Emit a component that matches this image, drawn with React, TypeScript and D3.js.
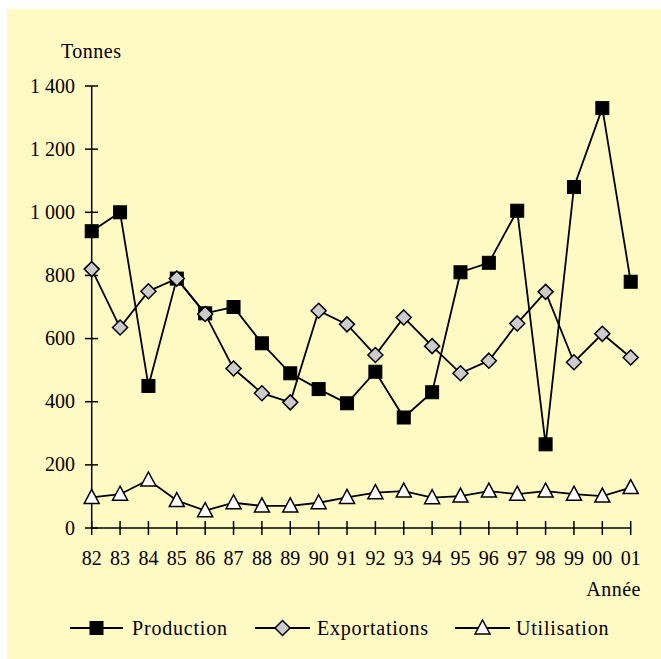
import React from "react";
import * as d3 from "d3";

const years = ["82","83","84","85","86","87","88","89","90","91","92","93","94","95","96","97","98","99","00","01"];
const production = [940,1000,450,790,680,700,585,490,440,395,495,350,430,810,840,1005,265,1080,1330,780];
const exportations = [820,635,750,790,678,505,427,398,688,645,548,667,576,490,530,648,748,525,615,540];
const utilisation = [97,107,152,87,55,80,70,70,80,97,112,117,96,101,117,107,117,107,101,128];
const yTicks = [0,200,400,600,800,1000,1200,1400];
const seriesNames = ["Production","Exportations","Utilisation"];

const W = 661, H = 659;
const FONT = "Liberation Serif, Times New Roman, serif";

function fmt(v: number) {
  return v >= 1000 ? `${Math.floor(v / 1000)} ${String(v % 1000).padStart(3, "0")}` : String(v);
}

function Marker({ type, x, y }: { type: number; x: number; y: number }) {
  if (type === 0) return <rect x={x - 6.5} y={y - 6.5} width={13} height={13} fill="#000" stroke="#000" strokeWidth={1} />;
  if (type === 1) return <path d={`M${x},${y - 7.5}L${x + 7.5},${y}L${x},${y + 7.5}L${x - 7.5},${y}Z`} fill="#CCCCCC" stroke="#000" strokeWidth={1.5} />;
  return <path d={`M${x},${y - 8}L${x + 7.5},${y + 6}L${x - 7.5},${y + 6}Z`} fill="#FFFFFF" stroke="#000" strokeWidth={1.5} />;
}

export default function App() {
  const x = d3.scalePoint<string>().domain(years).range([91.7, 630.7]);
  const y = d3.scaleLinear().domain([0, 1400]).range([528, 86]);
  const line = d3.line<number>().x((_, i) => x(years[i])!).y(d => y(d));
  const data = [production, exportations, utilisation];
  const legendX = [[70, 123, 132], [255, 310, 317], [455, 510, 516]];
  return (
    <svg width={W} height={H} style={{ position: "absolute", left: 0, top: 0 }}>
      <rect x={7} y={9} width={W - 7} height={H - 9} fill="#FFF9C4" />
      <g fontFamily={FONT} fontSize={20} fill="#000">
        <text x={61} y={57.5} letterSpacing={0.5}>Tonnes</text>
        <line x1={91.7} x2={91.7} y1={86} y2={528} stroke="#000" strokeWidth={1.5} />
        <line x1={91.7} x2={630.7} y1={528} y2={528} stroke="#000" strokeWidth={1.5} />
        {yTicks.map(t => (
          <g key={t}>
            <line x1={85} x2={98} y1={y(t)} y2={y(t)} stroke="#000" strokeWidth={1.5} />
            <text x={75} y={y(t) + 6.5} textAnchor="end">{fmt(t)}</text>
          </g>
        ))}
        {years.map(yr => (
          <g key={yr}>
            <line x1={x(yr)} x2={x(yr)} y1={521} y2={535} stroke="#000" strokeWidth={1.5} />
            <text x={x(yr)} y={565} textAnchor="middle">{yr}</text>
          </g>
        ))}
        <text x={641} y={596} textAnchor="end" letterSpacing={0.5}>Année</text>
        {data.map((s, k) => (
          <g key={k}>
            <path d={line(s)!} fill="none" stroke="#000" strokeWidth={1.8} />
            {s.map((v, i) => <Marker key={i} type={k} x={x(years[i])!} y={y(v)} />)}
          </g>
        ))}
        {seriesNames.map((n, k) => (
          <g key={n}>
            <line x1={legendX[k][0]} x2={legendX[k][1]} y1={628} y2={628} stroke="#000" strokeWidth={1.8} />
            <Marker type={k} x={(legendX[k][0] + legendX[k][1]) / 2} y={628} />
            <text x={legendX[k][2]} y={635} letterSpacing={0.8}>{n}</text>
          </g>
        ))}
      </g>
    </svg>
  );
}
